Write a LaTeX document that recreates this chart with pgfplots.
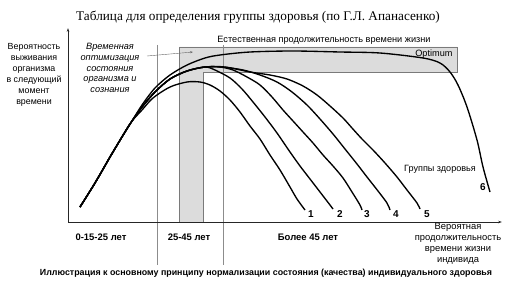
\documentclass[border=0pt]{standalone}
\usepackage{fontspec}
\setmainfont{Liberation Sans}
\newfontfamily\seriffont{Liberation Serif}
\usepackage{pgfplots}
\pgfplotsset{compat=1.18}
\usetikzlibrary{arrows.meta}
\definecolor{boxfill}{HTML}{DCDCDC}
\definecolor{boxline}{HTML}{7A7A7A}
\definecolor{vline}{HTML}{8C8C8C}
\begin{document}
\begin{tikzpicture}
\begin{axis}[scale only axis, width=505bp, height=284bp,
  xmin=0, xmax=505, ymin=0, ymax=284, y dir=reverse,
  hide axis, clip=false]
% shaded L-shaped zone
\addplot[fill=boxfill, draw=boxline, line width=0.6pt] coordinates
  {(179,47) (457,47) (457,72) (203,72) (203,222) (179,222) (179,47)};
% vertical separators
\addplot[vline, line width=0.7pt] coordinates {(157,45) (157,265)};
\addplot[vline, line width=0.7pt] coordinates {(223,45) (223,265)};
% axes
\addplot[black!85, line width=0.7pt, -{Stealth[length=4pt,width=2.6pt]}] coordinates {(68,222) (68,28)};
\addplot[black!85, line width=0.7pt, -{Stealth[length=4pt,width=2.6pt]}] coordinates {(68,222) (502,222)};
% small arrow
\addplot[black!60, line width=0.4pt, -{Stealth[length=3pt,width=2pt]}] coordinates {(147,56) (193,52)};
% curve 6
\addplot[black, line width=1.35pt, smooth] coordinates {
 (80,207) (95,183) (110,157) (125,132) (132,121) (142,105) (155,88) (170,75) (187,65)
 (205,58) (220,55) (250,52) (293,51) (340,52) (380,53) (423,58) (440,63) (450,72)
 (458,85) (467,107) (477,140) (483,167) (490,192)};
% curve 1
\addplot[black, line width=1.35pt, smooth] coordinates {
 (80,207) (95,183) (110,157) (125,132) (132,121) (142,110) (153,98) (170,87) (187,82)
 (200,82) (210,85) (220,91) (230,100) (240,112) (250,126) (260,139) (270,155)
 (280,170) (290,187) (297,199) (305,210)};
% curve 2
\addplot[black, line width=1.35pt, smooth] coordinates {
 (80,207) (95,183) (110,157) (125,132) (132,121) (142,107) (155,92) (170,79) (187,71)
 (205,67) (215,70) (230,78) (242,89) (253,102) (265,117) (277,133) (290,152)
 (300,166) (310,179) (320,192) (330,205) (333,209)};
% curve 3
\addplot[black, line width=1.35pt, smooth] coordinates {
 (80,207) (95,183) (110,157) (125,132) (132,121) (142,107) (155,92) (170,79) (187,71)
 (205,67) (220,67) (233,70) (247,77) (260,85) (272,97) (283,110) (293,121) (303,132)
 (313,143) (323,155) (333,166) (343,178) (352,192) (360,205) (362,210)};
% curve 4
\addplot[black, line width=1.35pt, smooth] coordinates {
 (80,207) (95,183) (110,157) (125,132) (132,121) (142,107) (155,92) (170,79) (187,71)
 (205,67) (222,67) (243,70) (260,75) (277,82) (292,92) (307,105) (320,119) (333,134)
 (345,149) (357,164) (367,177) (378,191) (387,203) (390,210)};
% curve 5
\addplot[black, line width=1.35pt, smooth] coordinates {
 (80,207) (95,183) (110,157) (125,132) (132,121) (142,107) (155,92) (170,79) (187,71)
 (205,67) (225,67) (250,72) (270,75) (287,79) (303,86) (317,95) (330,106) (343,118)
 (352,128) (362,139) (373,150) (385,163) (397,177) (407,190) (417,203) (420,209)};
% texts
\node[font=\seriffont\fontsize{13.3}{15}\selectfont] at (axis cs:258,17)
  {Таблица для определения группы здоровья (по Г.Л. Апанасенко)};
\node[font=\fontsize{8.9}{11}\selectfont, align=center] at (axis cs:34,75)
  {Вероятность\\выживания\\организма\\в следующий\\момент\\времени};
\node[font=\itshape\fontsize{9.2}{10.8}\selectfont, align=center] at (axis cs:110,68)
  {Временная\\оптимизация\\состояния\\организма и\\сознания};
\node[font=\fontsize{9.2}{10}\selectfont] at (axis cs:324,40)
  {Естественная продолжительность времени жизни};
\node[font=\fontsize{9.2}{10}\selectfont, anchor=east] at (axis cs:456,54) {Optimum};
\node[font=\fontsize{9.1}{10}\selectfont] at (axis cs:440,169) {Группы здоровья};
\node[font=\bfseries\fontsize{10}{10}\selectfont] at (axis cs:311,214) {1};
\node[font=\bfseries\fontsize{10}{10}\selectfont] at (axis cs:340,214) {2};
\node[font=\bfseries\fontsize{10}{10}\selectfont] at (axis cs:367,214) {3};
\node[font=\bfseries\fontsize{10}{10}\selectfont] at (axis cs:396,214) {4};
\node[font=\bfseries\fontsize{10}{10}\selectfont] at (axis cs:427,214) {5};
\node[font=\bfseries\fontsize{10}{10}\selectfont] at (axis cs:483,187) {6};
\node[font=\bfseries\fontsize{9.5}{10}\selectfont] at (axis cs:101,237) {0-15-25 лет};
\node[font=\bfseries\fontsize{9.5}{10}\selectfont] at (axis cs:189,237) {25-45 лет};
\node[font=\bfseries\fontsize{9.5}{10}\selectfont] at (axis cs:308,237) {Более 45 лет};
\node[font=\fontsize{9.4}{11}\selectfont, align=center] at (axis cs:458,244)
  {Вероятная\\продолжительность\\времени жизни\\индивида};
\node[font=\bfseries\fontsize{8.9}{10}\selectfont] at (axis cs:266,273)
  {Иллюстрация к основному принципу нормализации состояния (качества) индивидуального здоровья};
\end{axis}
\pgfresetboundingbox
\path (0,0) rectangle (505bp,284bp);
\end{tikzpicture}
\end{document}
